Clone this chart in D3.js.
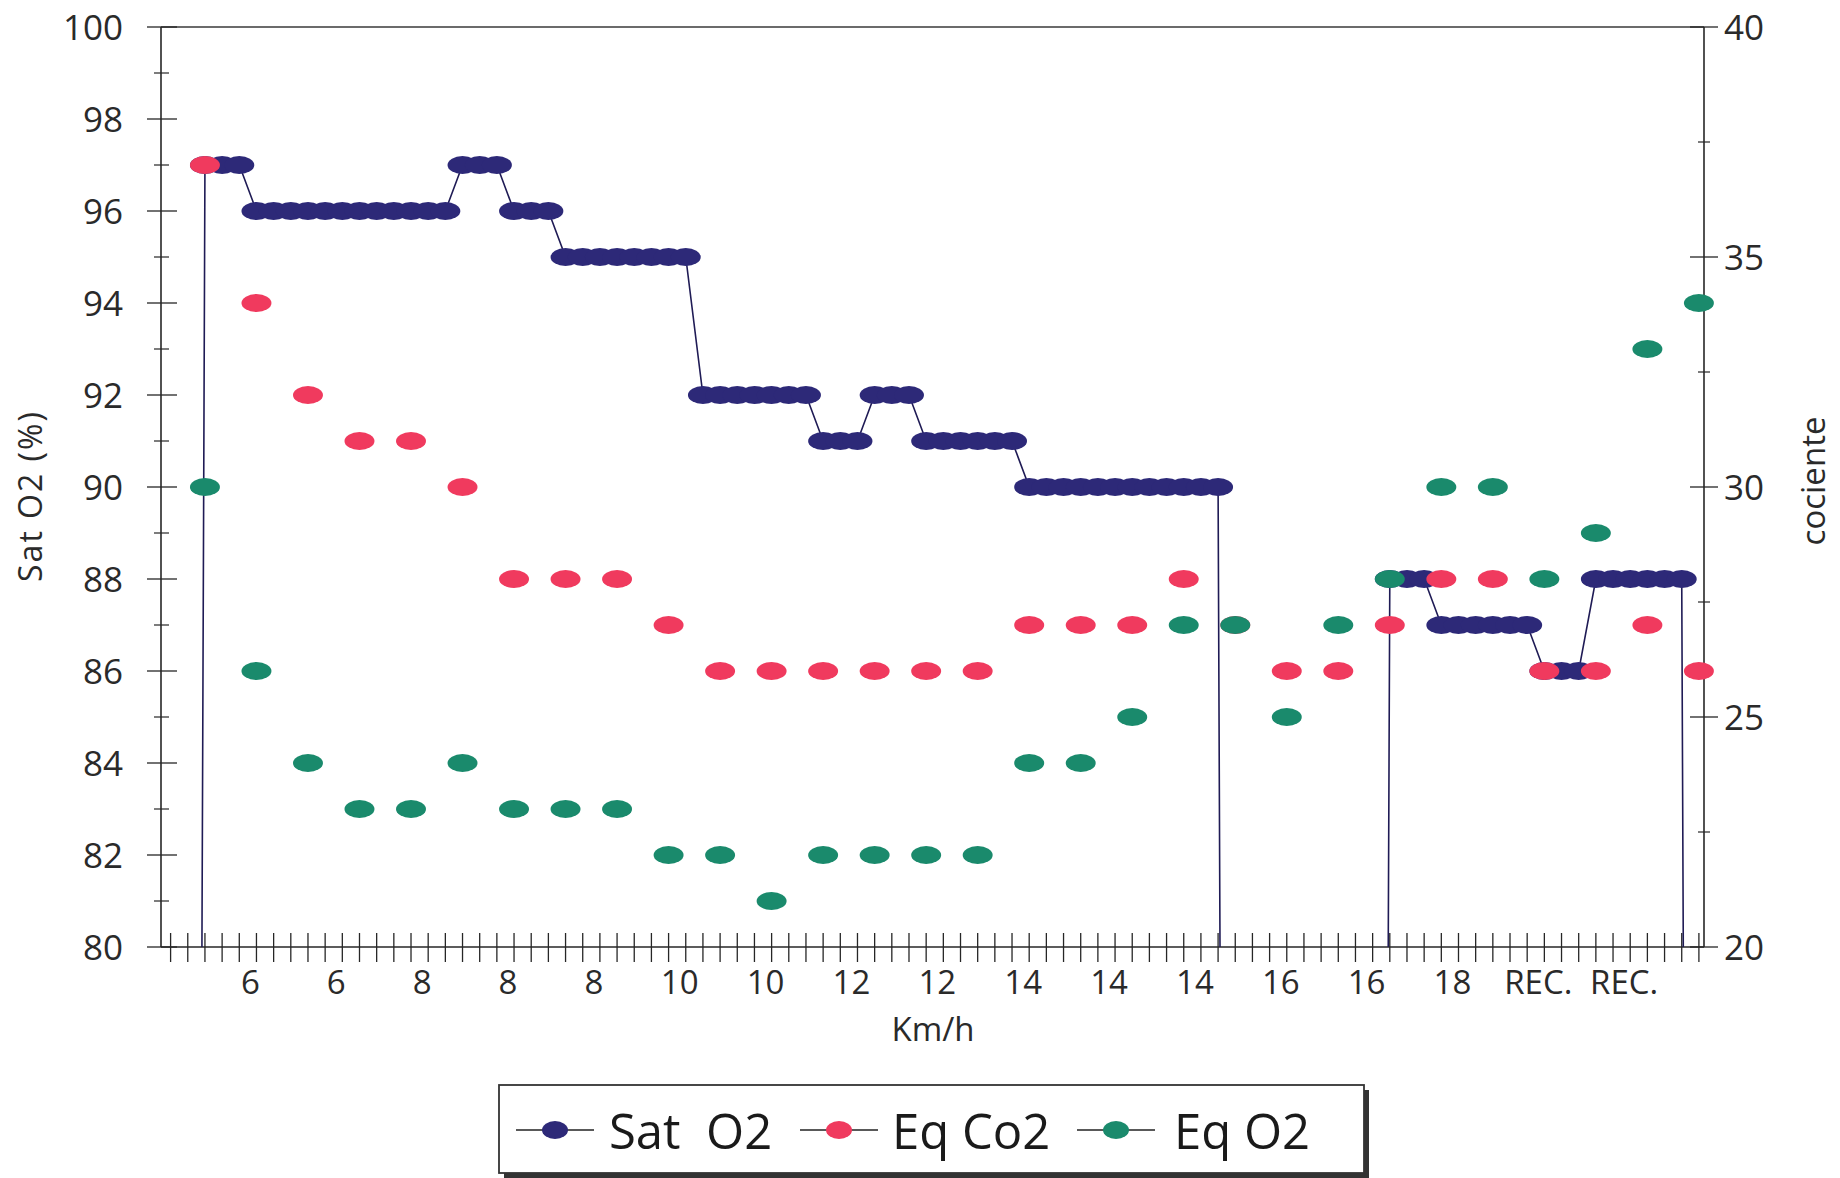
<!DOCTYPE html>
<html>
<head>
<meta charset="utf-8">
<script src="https://cdn.jsdelivr.net/npm/d3@7"></script>
<style>
html,body{margin:0;padding:0;background:#fff;}
svg{display:block;font-family:"Open Sans",sans-serif;}
</style>
</head>
<body>
<svg id="chart" width="1840" height="1178"></svg>
<script>
// ---------------- DATA ----------------
const nCategories = 90;
const xTickLabels = ["6","6","8","8","8","10","10","12","12","14","14","14","16","16","18","REC.","REC."];
const leftTicks = [80,82,84,86,88,90,92,94,96,98,100];
const leftMinorTicks = [81,83,85,87,89,91,93,95,97,99];
const rightTicks = [20,25,30,35,40];
const rightMinorTicks = [22.5,27.5,32.5,37.5];

// Sat O2 (%) for every category (0 = no reading)
const satO2 = [0,0,97,97,97,96,96,96,96,96,96,96,96,96,96,96,96,97,97,97,
               96,96,96,95,95,95,95,95,95,95,95,92,92,92,92,92,92,92,91,91,
               91,92,92,92,91,91,91,91,91,91,90,90,90,90,90,90,90,90,90,90,
               90,90,0,0,0,0,0,0,0,0,0,88,88,88,87,87,87,87,87,87,
               86,86,86,88,88,88,88,88,88,0];

// Eq series are recorded every third category
const eqCategories = [2,5,8,11,14,17,20,23,26,29,32,35,38,41,44,47,50,53,56,59,62,65,68,71,74,77,80,83,86,89];
const eqCO2 = [37,34,32,31,31,30,28,28,28,27,26,26,26,26,26,26,27,27,27,28,27,26,26,27,28,28,26,26,27,26];
const eqO2  = [30,26,24,23,23,24,23,23,23,22,22,21,22,22,22,22,24,24,25,27,27,25,27,28,30,30,28,29,33,34];

const seriesNames = ["Sat  O2","Eq Co2","Eq O2"];
const seriesColors = ["#2d2978","#f03a5e","#1a8a6c"];

// ---------------- LAYOUT ----------------
const P = {left:161, right:1704, top:27, bottom:947};
const svg = d3.select("#chart");

const x = d3.scaleLinear().domain([0, nCategories-1]).range([170.6, 1698.9]);
const yL = d3.scaleLinear().domain([80,100]).range([P.bottom, P.top]);
const yR = d3.scaleLinear().domain([20,40]).range([P.bottom, P.top]);

const axisColor = "#262626";
const textColor = "#2a2a2a";

// plot top border
svg.append("line").attr("x1",P.left).attr("x2",P.right).attr("y1",P.top).attr("y2",P.top)
  .attr("stroke","#3a3a3a").attr("stroke-width",1.6);

// ---- left axis ----
const gL = svg.append("g");
gL.append("line").attr("x1",P.left).attr("x2",P.left).attr("y1",P.top).attr("y2",P.bottom)
  .attr("stroke",axisColor).attr("stroke-width",1.6);
gL.selectAll(".maj").data(leftTicks).join("line")
  .attr("x1",P.left-14).attr("x2",P.left+16).attr("y1",d=>yL(d)).attr("y2",d=>yL(d))
  .attr("stroke",axisColor).attr("stroke-width",1.3);
gL.selectAll(".min").data(leftMinorTicks).join("line").attr("class","min")
  .attr("x1",P.left-7).attr("x2",P.left+8).attr("y1",d=>yL(d)).attr("y2",d=>yL(d))
  .attr("stroke",axisColor).attr("stroke-width",1.2);
gL.selectAll("text").data(leftTicks).join("text")
  .attr("x",123).attr("y",d=>yL(d)).attr("dy","0.36em").attr("text-anchor","end")
  .attr("font-size",35).attr("fill",textColor).text(d=>d);

// ---- right axis ----
const gR = svg.append("g");
gR.append("line").attr("x1",P.right).attr("x2",P.right).attr("y1",P.top).attr("y2",P.bottom)
  .attr("stroke",axisColor).attr("stroke-width",1.6);
gR.selectAll(".maj").data(rightTicks).join("line")
  .attr("x1",P.right-14).attr("x2",P.right+14).attr("y1",d=>yR(d)).attr("y2",d=>yR(d))
  .attr("stroke",axisColor).attr("stroke-width",1.3);
gR.selectAll(".min").data(rightMinorTicks).join("line").attr("class","min")
  .attr("x1",P.right-6).attr("x2",P.right+6).attr("y1",d=>yR(d)).attr("y2",d=>yR(d))
  .attr("stroke",axisColor).attr("stroke-width",1.2);
gR.selectAll("text").data(rightTicks).join("text")
  .attr("x",P.right+20).attr("y",d=>yR(d)).attr("dy","0.36em").attr("text-anchor","start")
  .attr("font-size",35).attr("fill",textColor).text(d=>d);

// ---- bottom axis ----
const gB = svg.append("g");
gB.append("line").attr("x1",P.left).attr("x2",P.right).attr("y1",P.bottom).attr("y2",P.bottom)
  .attr("stroke",axisColor).attr("stroke-width",1.4);
gB.selectAll(".tk").data(d3.range(nCategories)).join("line")
  .attr("x1",d=>x(d)).attr("x2",d=>x(d)).attr("y1",P.bottom-14).attr("y2",P.bottom+15)
  .attr("stroke",axisColor).attr("stroke-width",1.3);
gB.selectAll("text").data(xTickLabels).join("text")
  .attr("x",(d,i)=>x(4.65 + 5*i)).attr("y",P.bottom+47).attr("text-anchor","middle")
  .attr("font-size",33).attr("fill",textColor).text(d=>d);

// axis titles
svg.append("text").attr("transform",`translate(42,496) rotate(-90)`).attr("text-anchor","middle")
  .attr("font-size",32).attr("letter-spacing",2).attr("fill",textColor).text("Sat O2 (%)");
svg.append("text").attr("transform",`translate(1825,481) rotate(-90)`).attr("text-anchor","middle")
  .attr("font-size",33).attr("fill",textColor).text("cociente");
svg.append("text").attr("x",933).attr("y",1041).attr("text-anchor","middle")
  .attr("font-size",33).attr("fill",textColor).text("Km/h");

// ---- series ----
svg.append("defs").append("clipPath").attr("id","clipY")
  .append("rect").attr("x",0).attr("y",P.top).attr("width",1840).attr("height",P.bottom-P.top);

const RX = 15, RY = 9;

// Sat O2 line
const satPts = satO2.map((v,i)=>({i,v}));
svg.append("path").datum(satPts).attr("clip-path","url(#clipY)")
  .attr("d", d3.line().x(d=>x(d.i)).y(d=>yL(d.v)))
  .attr("fill","none").attr("stroke","#1f1b55").attr("stroke-width",1.6);
svg.append("g").selectAll("ellipse").data(satPts.filter(d=>d.v>=80)).join("ellipse")
  .attr("cx",d=>x(d.i)).attr("cy",d=>yL(d.v)).attr("rx",RX).attr("ry",RY)
  .attr("fill",seriesColors[0]);

// Eq CO2
svg.append("g").selectAll("ellipse").data(eqCategories.map((c,k)=>({c,v:eqCO2[k]}))).join("ellipse")
  .attr("cx",d=>x(d.c)).attr("cy",d=>yR(d.v)).attr("rx",RX).attr("ry",RY)
  .attr("fill",seriesColors[1]);

// Eq O2
svg.append("g").selectAll("ellipse").data(eqCategories.map((c,k)=>({c,v:eqO2[k]}))).join("ellipse")
  .attr("cx",d=>x(d.c)).attr("cy",d=>yR(d.v)).attr("rx",RX).attr("ry",RY)
  .attr("fill",seriesColors[2]);

// ---- legend ----
const L = {x:499, y:1085, w:865, h:88};
svg.append("rect").attr("x",L.x+5).attr("y",L.y+5).attr("width",L.w).attr("height",L.h).attr("fill","#333");
svg.append("rect").attr("x",L.x).attr("y",L.y).attr("width",L.w).attr("height",L.h)
  .attr("fill","#fff").attr("stroke","#333").attr("stroke-width",1.8);
const legendItems = [
  {name:seriesNames[0], color:seriesColors[0], lx:516, tx:609},
  {name:seriesNames[1], color:seriesColors[1], lx:800, tx:892},
  {name:seriesNames[2], color:seriesColors[2], lx:1077, tx:1174}
];
const lg = svg.append("g").selectAll("g").data(legendItems).join("g");
lg.append("line").attr("x1",d=>d.lx).attr("x2",d=>d.lx+78).attr("y1",1130).attr("y2",1130)
  .attr("stroke","#222").attr("stroke-width",1.6);
lg.append("ellipse").attr("cx",d=>d.lx+39).attr("cy",1130).attr("rx",13).attr("ry",9)
  .attr("fill",d=>d.color);
lg.append("text").attr("x",d=>d.tx).attr("y",1149).attr("font-size",49).attr("fill","#1a1a1a")
  .style("white-space","pre").text(d=>d.name);
</script>
</body>
</html>
